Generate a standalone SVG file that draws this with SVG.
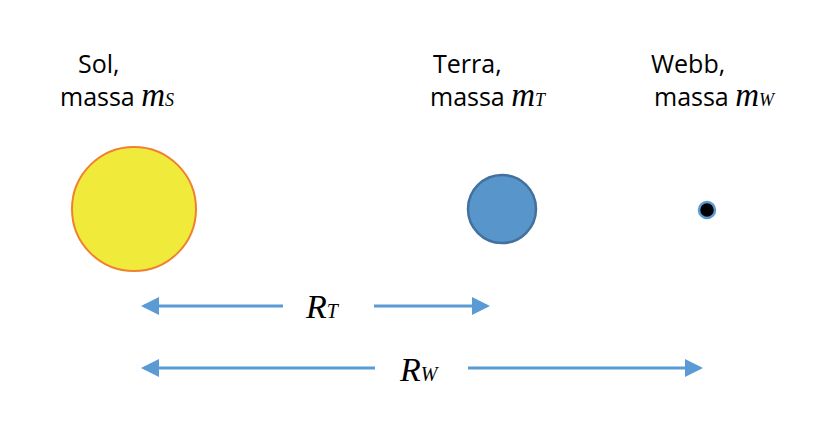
<svg xmlns="http://www.w3.org/2000/svg" width="833" height="428" viewBox="0 0 833 428">
<defs>
<marker id="ah" markerWidth="6" markerHeight="6" refX="5" refY="3" orient="auto-start-reverse" markerUnits="strokeWidth"><path d="M0,0L6,3L0,6Z" fill="#5B9BD5"/></marker>
<style>
.t{font-family:"Open Sans","Liberation Sans",sans-serif;font-size:25px;fill:#000}
.m{font-family:"Liberation Serif",serif;font-style:italic;font-size:33px}
.s{font-family:"Liberation Serif",serif;font-style:italic;font-size:18px}
.R{font-family:"Liberation Serif",serif;font-style:italic;font-size:34px;fill:#000}
.c{stroke:#5B9BD5;stroke-width:3;fill:none}
</style>
</defs>
<rect width="833" height="428" fill="#fff"/>
<g id="sol"><circle cx="134" cy="209" r="62" fill="#F0EA3A" stroke="#F08030" stroke-width="2"/>
<text class="t" x="78" y="73">Sol,</text><text class="t" x="60" y="106">massa <tspan class="m">m</tspan><tspan class="s">S</tspan></text></g>
<g id="terra"><circle cx="502" cy="209" r="34" fill="#5795CB" stroke="#41719C" stroke-width="2.5"/>
<text class="t" x="433" y="73">Terra,</text><text class="t" x="430" y="106">massa <tspan class="m">m</tspan><tspan class="s">T</tspan></text></g>
<g id="webb"><circle cx="707" cy="210" r="8" fill="#000" stroke="#5B9BD5" stroke-width="2.5"/>
<text class="t" x="651" y="73">Webb,</text><text class="t" x="654" y="106">massa <tspan class="m">m</tspan><tspan class="s">W</tspan></text></g>
<g id="connectors">
<line class="c" x1="283" y1="306" x2="144" y2="306" marker-end="url(#ah)"/>
<line class="c" x1="374" y1="306" x2="487" y2="306" marker-end="url(#ah)"/>
<line class="c" x1="375" y1="368" x2="144" y2="368" marker-end="url(#ah)"/>
<line class="c" x1="468" y1="368" x2="700" y2="368" marker-end="url(#ah)"/>
<text class="R" x="306" y="318">R<tspan font-size="20">T</tspan></text>
<text class="R" x="400" y="381">R<tspan font-size="20">W</tspan></text>
</g>
</svg>
